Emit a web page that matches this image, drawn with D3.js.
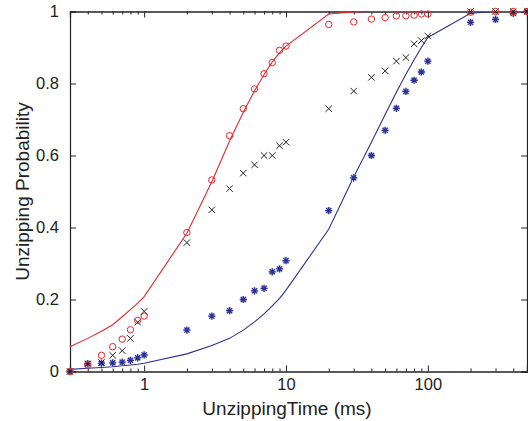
<!doctype html>
<html lang="en">
<head>
  <meta charset="utf-8">
  <title>Unzipping Probability</title>
  <style>
   body { margin: 0; background: #fff; }
   svg text { font-family: "Liberation Sans", Arial, Helvetica, sans-serif; fill: #222; }
   .tick-label { font-size: 16.5px; }
   .axis-label { font-size: 19px; }
  </style>
</head>
<body>
<svg id="chart" width="528" height="421"></svg>
<script src="https://d3js.org/d3.v7.min.js"></script>
<script>
 // unzipping times (ms) where both measurements and model were evaluated
 var times = [0.3, 0.4, 0.5, 0.6, 0.7, 0.8, 0.9, 1, 2, 3, 4, 5, 6, 7, 8, 9, 10,
              20, 30, 40, 50, 60, 70, 80, 90, 100, 200, 300, 400, 500];

 // red circles
 var redPoints = [0, 0.018, 0.045, 0.069, 0.09, 0.116, 0.142, 0.154, 0.386, 0.532,
                  0.655, 0.73, 0.785, 0.827, 0.858, 0.892, 0.904, 0.964, 0.971, 0.979,
                  0.983, 0.988, 0.988, 0.99, 0.993, 0.993, 0.998, 1, 1, 1];
 // black crosses
 var blackPoints = [0, 0.021, 0.025, 0.045, 0.058, 0.092, 0.137, 0.167, 0.358, 0.449,
                    0.508, 0.551, 0.574, 0.6, 0.6, 0.627, 0.637, 0.73, 0.779, 0.817,
                    0.835, 0.862, 0.872, 0.91, 0.919, 0.932, 1, 1, 1, 1];
 // blue stars
 var bluePoints = [0, 0.022, 0.023, 0.024, 0.026, 0.031, 0.038, 0.046, 0.115, 0.154,
                   0.169, 0.2, 0.224, 0.231, 0.277, 0.285, 0.308, 0.447, 0.538, 0.6,
                   0.67, 0.731, 0.778, 0.809, 0.832, 0.862, 0.97, 0.978, 0.995, 1];

 // model curves
 var redModel = [0.069, 0.092, 0.112, 0.13, 0.152, 0.172, 0.19, 0.208, 0.384, 0.527,
                 0.64, 0.72, 0.78, 0.825, 0.86, 0.885, 0.904, 0.993, 0.999, 1,
                 1, 1, 1, 1, 1, 1, 1, 1, 1, 1];
 var blueModel = [0.006, 0.009, 0.011, 0.013, 0.016, 0.018, 0.02, 0.023, 0.049, 0.072,
                  0.092, 0.115, 0.138, 0.16, 0.182, 0.203, 0.226, 0.395, 0.54, 0.637,
                  0.714, 0.776, 0.826, 0.866, 0.9, 0.928, 0.995, 1, 1, 1];

 var xMajor = [1, 10, 100];
 var xMinor = [0.4, 0.5, 0.6, 0.7, 0.8, 0.9, 2, 3, 4, 5, 6, 7, 8, 9,
               20, 30, 40, 50, 60, 70, 80, 90, 200, 300, 400, 500];
 var yTicks = [0, 0.2, 0.4, 0.6, 0.8, 1];
 var yTickLabels = ["0", "0.2", "0.4", "0.6", "0.8", "1"];

 var plotLeft = 70, plotRight = 527, plotTop = 11.5, plotBottom = 371.5;
 var red = "#e8262b", blue = "#2e3192", ink = "#222";

 var svg = d3.select("#chart");
 var x = d3.scaleLog().domain([0.3, 500]).range([plotLeft, plotRight]);
 var y = d3.scaleLinear().domain([0, 1]).range([plotBottom, plotTop]);

 // axes: ticks point inwards, box all round
 function addAxis(axis, transform, showLabels) {
     var g = svg.append("g").attr("transform", transform).call(axis);
     g.select(".domain").attr("stroke", ink).attr("stroke-width", 1.2);
     g.selectAll(".tick line").attr("stroke", ink);
     g.selectAll(".tick text").attr("class", "tick-label").attr("font-size", null)
      .style("display", showLabels ? null : "none");
     g.attr("font-family", null).attr("font-size", null);
     return g;
 }

 addAxis(d3.axisBottom(x).tickValues(xMinor).tickSize(-3).tickFormat(""),
         "translate(0," + plotBottom + ")", false);
 addAxis(d3.axisTop(x).tickValues(xMinor).tickSize(-3).tickFormat(""),
         "translate(0," + plotTop + ")", false);
 addAxis(d3.axisTop(x).tickValues(xMajor).tickSize(-6).tickFormat(""),
         "translate(0," + plotTop + ")", false);
 var xb = addAxis(d3.axisBottom(x).tickValues(xMajor).tickSize(-6).tickPadding(7)
                    .tickFormat(d3.format("d")),
                  "translate(0," + plotBottom + ")", true);
 xb.selectAll(".tick text").attr("dy", "0.71em");

 addAxis(d3.axisLeft(y).tickValues(yTicks).tickSize(-6).tickPadding(11)
           .tickFormat(function(d, i) { return yTickLabels[i]; }),
         "translate(" + plotLeft + ",0)", true);
 addAxis(d3.axisRight(y).tickValues(yTicks).tickSize(-6).tickFormat(""),
         "translate(" + plotRight + ",0)", false);

 // model lines
 var line = d3.line()
     .x(function(d) { return x(d[0]); })
     .y(function(d) { return y(d[1]); });

 svg.append("path")
    .attr("d", line(d3.zip(times, blueModel)))
    .attr("fill", "none").attr("stroke", blue).attr("stroke-width", 1.1);
 svg.append("path")
    .attr("d", line(d3.zip(times, redModel)))
    .attr("fill", "none").attr("stroke", red).attr("stroke-width", 1.1);

 // markers
 var star = function(s) {
     var d = s * 0.7071;
     return "M" + (-s) + ",0L" + s + ",0M0," + (-s) + "L0," + s +
            "M" + (-d) + "," + (-d) + "L" + d + "," + d +
            "M" + (-d) + "," + d + "L" + d + "," + (-d);
 };
 var cross = function(s) {
     return "M" + (-s) + "," + (-s) + "L" + s + "," + s +
            "M" + (-s) + "," + s + "L" + s + "," + (-s);
 };

 var blues = svg.append("g").selectAll("g")
     .data(d3.zip(times, bluePoints)).enter()
     .append("g")
     .attr("transform", function(d) { return "translate(" + x(d[0]) + "," + y(d[1]) + ")"; });
 blues.append("circle").attr("r", 3.6).attr("fill", "#b9bde0").attr("opacity", 0.55);
 blues.append("path").attr("d", star(3.6)).attr("stroke", blue).attr("stroke-width", 1.3);

 svg.append("g").selectAll("path")
    .data(d3.zip(times, blackPoints)).enter()
    .append("path")
    .attr("transform", function(d) { return "translate(" + x(d[0]) + "," + y(d[1]) + ")"; })
    .attr("d", cross(3.2))
    .attr("stroke", ink).attr("stroke-width", 1);

 svg.append("g").selectAll("circle")
    .data(d3.zip(times, redPoints)).enter()
    .append("circle")
    .attr("cx", function(d) { return x(d[0]); })
    .attr("cy", function(d) { return y(d[1]); })
    .attr("r", 3.2)
    .attr("fill", "none").attr("stroke", red).attr("stroke-width", 1);

 // axis labels
 svg.append("text").attr("class", "axis-label")
    .attr("x", 287).attr("y", 415).attr("text-anchor", "middle")
    .text("UnzippingTime (ms)");
 svg.append("text").attr("class", "axis-label")
    .attr("transform", "translate(28.5," + ((plotTop + plotBottom) / 2) + ") rotate(-90)")
    .attr("text-anchor", "middle")
    .text("Unzipping Probability");
</script>
</body>
</html>
